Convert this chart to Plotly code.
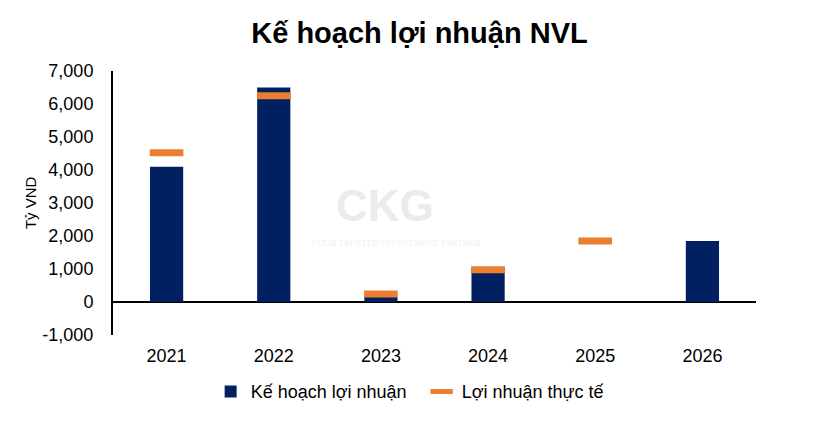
import plotly.graph_objects as go

years = ["2021", "2022", "2023", "2024", "2025", "2026"]
plan_profit = [4100, 6500, 160, 1050, None, 1850]
actual_profit = [4520, 6250, 240, 980, 1850, None]
y_ticks = [-1000, 0, 1000, 2000, 3000, 4000, 5000, 6000, 7000]
y_tick_text = ["-1,000", "0", "1,000", "2,000", "3,000", "4,000", "5,000", "6,000", "7,000"]

NAVY = "#002060"
ORANGE = "#ED7D31"
FONT = "Liberation Sans, Arial, sans-serif"

fig = go.Figure()
fig.add_trace(go.Bar(
    x=years, y=plan_profit, name="Kế hoạch lợi nhuận",
    marker=dict(color=NAVY, line=dict(width=0)), width=0.31,
))
fig.add_trace(go.Scatter(
    x=years, y=actual_profit, name="Lợi nhuận thực tế", mode="markers",
    marker=dict(symbol="line-ew", size=24, color=ORANGE,
                line=dict(color=ORANGE, width=7)),
))

fig.update_layout(
    width=839, height=422,
    margin=dict(l=113, r=83, t=71, b=87, autoexpand=False),
    paper_bgcolor="white", plot_bgcolor="white",
    font=dict(family=FONT, size=18, color="#000000"),
    title=dict(text="<b>Kế hoạch lợi nhuận NVL</b>", x=0.5, xanchor="center",
               y=0.922, yanchor="middle", font=dict(size=29, family=FONT, color="#000")),
    showlegend=True,
    legend=dict(orientation="h", x=0.48, xanchor="center", y=-0.215, yanchor="middle",
                font=dict(size=18), itemwidth=30, tracegroupgap=0, entrywidth=166),
)
fig.update_xaxes(
    showline=False, showgrid=False, ticks="", tickfont=dict(size=18),
    ticklabelstandoff=8, automargin=False,
)
fig.update_yaxes(
    range=[-1000, 7000], tickvals=y_ticks, ticktext=y_tick_text,
    showgrid=False, showline=True, linecolor="#000", linewidth=2,
    zeroline=True, zerolinecolor="#000", zerolinewidth=2,
    ticks="", ticklabelstandoff=14, tickfont=dict(size=18), automargin=False,
)

fig.add_annotation(
    text="Tỷ VND", x=-0.129, y=0.5, xref="paper", yref="paper", showarrow=False,
    textangle=-90, font=dict(size=15, family=FONT, color="#000"),
    xanchor="center", yanchor="middle",
)
fig.add_annotation(
    text="<b>CKG</b>", x=0.423, y=0.489, xref="paper", yref="paper", showarrow=False,
    font=dict(size=44, family=FONT, color="#ebebeb"),
    xanchor="center", yanchor="middle",
)
fig.add_annotation(
    text="YOUR TRUSTED INVESTMENT PARTNER", x=0.44, y=0.35, xref="paper", yref="paper",
    showarrow=False, font=dict(size=9, family="Liberation Serif", color="#f0f0f0"),
    xanchor="center", yanchor="middle",
)

fig.write_html("out.html", config={"displayModeBar": False},
               post_script="document.body.style.margin='0';")
